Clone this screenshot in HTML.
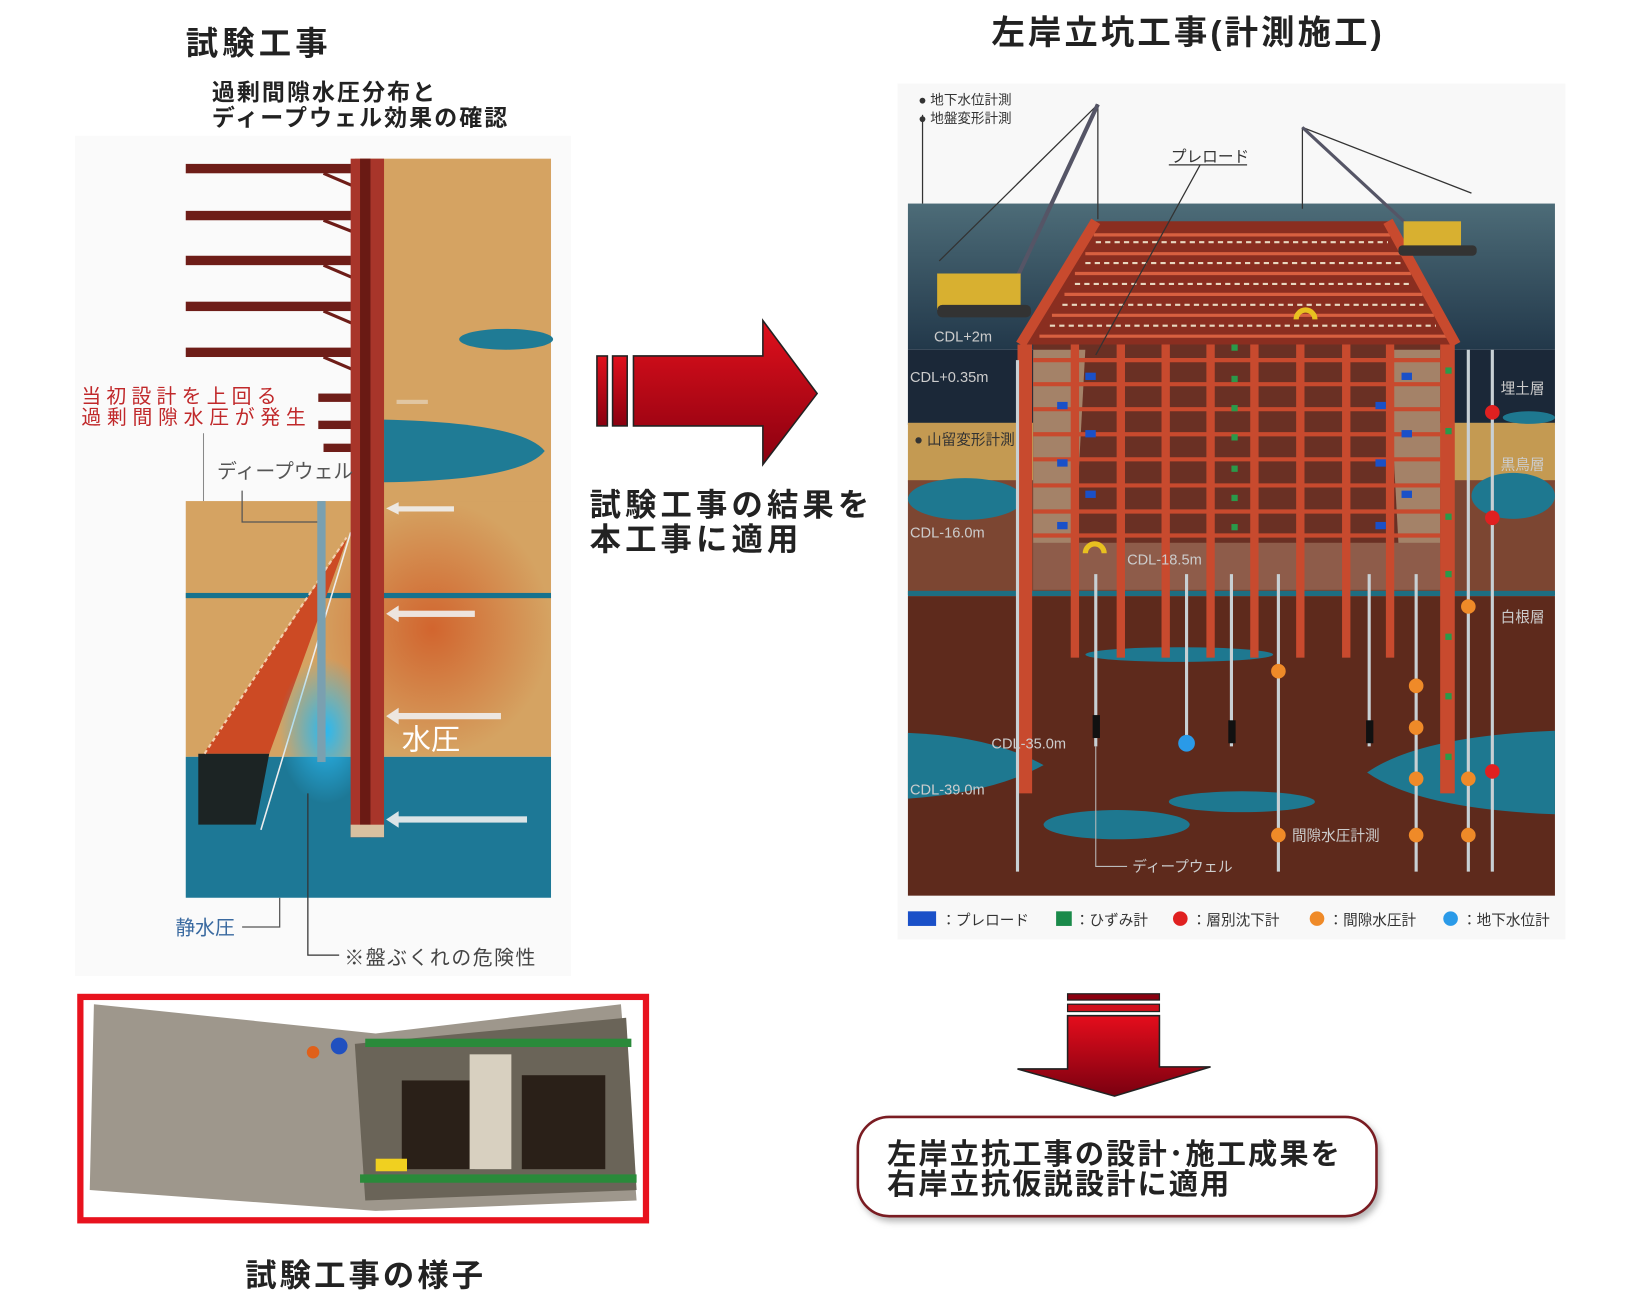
<!DOCTYPE html>
<html><head><meta charset="utf-8">
<style>
html,body{margin:0;padding:0;background:#fff;}
svg{display:block;}
text{font-family:"Liberation Sans","Noto Sans CJK JP",sans-serif;}
</style></head>
<body>
<svg width="1628" height="1308" viewBox="0 0 1560 1253" preserveAspectRatio="none" xmlns="http://www.w3.org/2000/svg">
<defs>
<linearGradient id="redH" x1="0" y1="0" x2="0" y2="1"><stop offset="0" stop-color="#e0101c"/><stop offset="1" stop-color="#8a0010"/></linearGradient>
<linearGradient id="redV" x1="0" y1="0" x2="0" y2="1"><stop offset="0" stop-color="#e50d1c"/><stop offset="1" stop-color="#7a0010"/></linearGradient>
<linearGradient id="sky" x1="0" y1="0" x2="0" y2="1"><stop offset="0" stop-color="#4d6c78"/><stop offset="1" stop-color="#22384a"/></linearGradient>
<radialGradient id="glow" cx="0.5" cy="0.5" r="0.5"><stop offset="0" stop-color="#2ab8f0"/><stop offset="1" stop-color="#2ab8f0" stop-opacity="0"/></radialGradient>
<radialGradient id="orangeGlow" cx="0.5" cy="0.5" r="0.5"><stop offset="0" stop-color="#d04a18" stop-opacity="0.7"/><stop offset="1" stop-color="#d04a18" stop-opacity="0"/></radialGradient>
<filter id="sh" x="-5%" y="-10%" width="115%" height="130%"><feDropShadow dx="3" dy="4" stdDeviation="3" flood-color="#888" flood-opacity="0.6"/></filter>
</defs>

<!-- LEFT titles -->
<text x="178" y="52" font-size="31" font-weight="bold" fill="#222" letter-spacing="4">試験工事</text>
<text x="203" y="96" font-size="22" font-weight="bold" fill="#222" letter-spacing="2">過剰間隙水圧分布と</text>
<text x="203" y="120" font-size="22" font-weight="bold" fill="#222" letter-spacing="2">ディープウェル効果の確認</text>

<!-- left diagram bg -->
<rect x="72" y="130" width="475" height="805" fill="#fafafa"/>
<rect x="340" y="152" width="188" height="330" fill="#d5a362"/>
<rect x="178" y="480" width="350" height="245" fill="#d5a362"/>
<rect x="300" y="480" width="228" height="245" fill="url(#orangeGlow)"/>
<rect x="178" y="725" width="350" height="135" fill="#1d7896"/>
<rect x="178" y="568" width="350" height="5" fill="#16728e"/>
<ellipse cx="485" cy="325" rx="45" ry="10" fill="#1f7b95"/>
<path d="M368 402 Q500 405 522 432 Q500 460 368 462 Z" fill="#1f7b95"/>
<g fill="#6e1d18">
<rect x="178" y="157" width="160" height="9"/>
<rect x="178" y="202" width="160" height="9"/>
<rect x="178" y="245" width="160" height="9"/>
<rect x="178" y="289" width="160" height="9"/>
<rect x="178" y="333" width="160" height="9"/>
<rect x="305" y="377" width="33" height="8"/>
<rect x="305" y="403" width="33" height="8"/>
<rect x="310" y="425" width="28" height="8"/>
</g>
<g stroke="#6e1d18" stroke-width="3">
<line x1="310" y1="166" x2="338" y2="178"/><line x1="310" y1="211" x2="338" y2="222"/><line x1="310" y1="254" x2="338" y2="266"/><line x1="310" y1="298" x2="338" y2="310"/><line x1="310" y1="342" x2="338" y2="354"/>
</g>
<path d="M195 722 L333 515 L258 722 Z" fill="#cc4a24"/>
<path d="M190 722 L258 722 L245 790 L190 790 Z" fill="#1c2424"/>
<line x1="196" y1="722" x2="332" y2="515" stroke="#f4d0b0" stroke-width="2" stroke-dasharray="4 3"/>
<line x1="250" y1="795" x2="336" y2="510" stroke="#eee" stroke-width="1.5"/>
<ellipse cx="312" cy="700" rx="45" ry="70" fill="url(#glow)"/>
<rect x="304" y="480" width="8" height="250" fill="#7aa0b0"/>
<rect x="336" y="152" width="32" height="650" fill="#a8352a"/>
<rect x="345" y="152" width="10" height="650" fill="#6a1a14"/>
<rect x="336" y="790" width="32" height="12" fill="#d8c0a0"/>
<g fill="#f0f0f0" opacity="0.9">
<rect x="380" y="383" width="30" height="4" opacity="0.5"/>
<rect x="380" y="485" width="55" height="5"/><polygon points="370,487 382,481 382,493"/>
<rect x="380" y="585" width="75" height="6"/><polygon points="370,588 382,580 382,596"/>
<rect x="380" y="683" width="100" height="6"/><polygon points="370,686 382,678 382,694"/>
<rect x="380" y="782" width="125" height="6"/><polygon points="370,785 382,777 382,793"/>
</g>
<text x="385" y="718" font-size="28" fill="#fff">水圧</text>
<text x="78" y="386" font-size="19" fill="#c0282a" letter-spacing="5">当初設計を上回る</text>
<text x="78" y="406" font-size="19" fill="#c0282a" letter-spacing="5.5">過剰間隙水圧が発生</text>
<line x1="195" y1="415" x2="195" y2="480" stroke="#888" stroke-width="1"/>
<text x="208" y="458" font-size="19" fill="#555">ディープウェル</text>
<polyline points="232,470 232,500 304,500" fill="none" stroke="#555" stroke-width="1.2"/>
<text x="168" y="895" font-size="19" fill="#3a6aa0">静水圧</text>
<polyline points="232,888 268,888 268,860" fill="none" stroke="#555" stroke-width="1.2"/>
<polyline points="295,760 295,915 325,915" fill="none" stroke="#333" stroke-width="1.2"/>
<text x="330" y="924" font-size="19" fill="#444" letter-spacing="1.5">※盤ぶくれの危険性</text>

<!-- photo -->
<rect x="77" y="955" width="542" height="214" fill="#fff" stroke="#e8121e" stroke-width="6"/>
<path d="M90 962 L360 990 L595 962 L610 1150 L360 1160 L86 1140 Z" fill="#9e978c"/>
<path d="M340 1000 L600 975 L610 1140 L350 1150 Z" fill="#6a6458"/>
<rect x="385" y="1035" width="70" height="85" fill="#2a2018"/>
<rect x="500" y="1030" width="80" height="90" fill="#2a2018"/>
<rect x="350" y="995" width="255" height="8" fill="#2a8a3a"/>
<rect x="345" y="1125" width="265" height="8" fill="#2a8a3a"/>
<rect x="450" y="1010" width="40" height="110" fill="#d8d0c0"/>
<circle cx="325" cy="1002" r="8" fill="#2050c0"/><circle cx="300" cy="1008" r="6" fill="#e0601a"/>
<rect x="360" y="1110" width="30" height="12" fill="#f0d020"/>
<text x="235" y="1232" font-size="30" font-weight="bold" fill="#222" letter-spacing="3">試験工事の様子</text>

<!-- middle arrow -->
<rect x="572" y="341" width="10" height="67" fill="url(#redH)" stroke="#222" stroke-width="1.5"/>
<rect x="587" y="341" width="14" height="67" fill="url(#redH)" stroke="#222" stroke-width="1.5"/>
<path d="M607 341 L731 341 L731 307 L783 377 L731 445 L731 408 L607 408 Z" fill="url(#redH)" stroke="#222" stroke-width="1.5"/>
<text x="565" y="494" font-size="30" font-weight="bold" fill="#222" letter-spacing="4">試験工事の結果を</text>
<text x="565" y="527" font-size="30" font-weight="bold" fill="#222" letter-spacing="4">本工事に適用</text>

<!-- RIGHT title -->
<text x="950" y="42" font-size="32" font-weight="bold" fill="#222" letter-spacing="3">左岸立坑工事(計測施工)</text>

<!-- right diagram -->
<rect x="860" y="80" width="640" height="820" fill="#f8f8f8"/>
<rect x="870" y="195" width="620" height="140" fill="url(#sky)"/>
<rect x="870" y="335" width="620" height="72" fill="#1b2838"/>
<rect x="870" y="405" width="620" height="57" fill="#c49a52"/>
<rect x="870" y="460" width="620" height="110" fill="#7c4632"/>
<rect x="870" y="566" width="620" height="5" fill="#1e6e82"/>
<rect x="870" y="571" width="620" height="287" fill="#5e2a1c"/>
<ellipse cx="925" cy="478" rx="55" ry="20" fill="#1e7890"/>
<ellipse cx="1450" cy="475" rx="40" ry="22" fill="#1e7890"/>
<ellipse cx="1465" cy="400" rx="25" ry="6" fill="#1e7890"/>
<path d="M870 702 Q950 705 1000 733 Q950 760 870 765 Z" fill="#1e7890"/>
<path d="M1490 700 Q1360 705 1310 740 Q1360 775 1490 780 Z" fill="#1e7890"/>
<ellipse cx="1190" cy="768" rx="70" ry="10" fill="#1e7890"/>
<ellipse cx="1070" cy="790" rx="70" ry="14" fill="#1e7890"/>
<ellipse cx="1130" cy="627" rx="90" ry="7" fill="#1e7890"/>
<rect x="990" y="330" width="390" height="190" fill="#6a3024"/>
<rect x="990" y="520" width="390" height="45" fill="#8e5c4a"/>
<path d="M990 335 L1040 335 L1030 520 L990 520 Z" fill="#a48268"/>
<path d="M1380 335 L1330 335 L1340 520 L1380 520 Z" fill="#a48268"/>
<path d="M1050 212 L1330 212 L1395 330 L978 330 Z" fill="#8a2e20"/>
<g stroke="#d86040" stroke-width="3">
<line x1="1048" y1="225" x2="1332" y2="225"/><line x1="1040" y1="243" x2="1342" y2="243"/><line x1="1030" y1="262" x2="1352" y2="262"/><line x1="1020" y1="282" x2="1363" y2="282"/><line x1="1008" y1="302" x2="1374" y2="302"/><line x1="996" y1="322" x2="1386" y2="322"/>
</g>
<g stroke="#e8d8c0" stroke-width="2" stroke-dasharray="5 4">
<line x1="1050" y1="232" x2="1330" y2="232"/><line x1="1040" y1="252" x2="1342" y2="252"/><line x1="1030" y1="272" x2="1352" y2="272"/><line x1="1018" y1="292" x2="1364" y2="292"/><line x1="1006" y1="312" x2="1376" y2="312"/>
</g>
<g stroke="#c84a2e" stroke-width="4">
<line x1="990" y1="345" x2="1380" y2="345"/><line x1="990" y1="368" x2="1380" y2="368"/><line x1="990" y1="392" x2="1380" y2="392"/><line x1="990" y1="416" x2="1380" y2="416"/><line x1="990" y1="440" x2="1380" y2="440"/><line x1="990" y1="465" x2="1380" y2="465"/><line x1="990" y1="490" x2="1380" y2="490"/><line x1="990" y1="513" x2="1380" y2="513"/>
</g>
<g fill="#c84a2e">
<rect x="1026" y="330" width="8" height="300"/><rect x="1070" y="330" width="8" height="300"/><rect x="1113" y="330" width="8" height="300"/><rect x="1156" y="330" width="8" height="300"/><rect x="1198" y="330" width="8" height="300"/><rect x="1242" y="330" width="8" height="300"/><rect x="1286" y="330" width="8" height="300"/><rect x="1328" y="330" width="8" height="300"/>
<rect x="975" y="330" width="14" height="430"/><rect x="1380" y="330" width="14" height="430"/>
</g>
<path d="M978 330 L1050 212 M1395 330 L1330 212" stroke="#c84a2e" stroke-width="10"/>
<g stroke="#c8d0d4" stroke-width="3">
<line x1="975" y1="345" x2="975" y2="835"/><line x1="1050" y1="550" x2="1050" y2="715"/><line x1="1137" y1="550" x2="1137" y2="705"/><line x1="1180" y1="550" x2="1180" y2="715"/><line x1="1225" y1="550" x2="1225" y2="835"/><line x1="1312" y1="550" x2="1312" y2="715"/><line x1="1357" y1="550" x2="1357" y2="835"/><line x1="1407" y1="335" x2="1407" y2="835"/><line x1="1430" y1="335" x2="1430" y2="835"/>
</g>
<g fill="#111"><rect x="1047" y="685" width="7" height="22"/><rect x="1177" y="690" width="7" height="22"/><rect x="1309" y="690" width="7" height="22"/></g>
<circle cx="1137" cy="712" r="8" fill="#2a9ae8"/>
<g fill="#ef8a28"><circle cx="1225" cy="643" r="7"/><circle cx="1225" cy="800" r="7"/><circle cx="1357" cy="657" r="7"/><circle cx="1357" cy="697" r="7"/><circle cx="1357" cy="746" r="7"/><circle cx="1357" cy="800" r="7"/><circle cx="1407" cy="581" r="7"/><circle cx="1407" cy="746" r="7"/><circle cx="1407" cy="800" r="7"/></g>
<g fill="#e02020"><circle cx="1430" cy="395" r="7"/><circle cx="1430" cy="496" r="7"/><circle cx="1430" cy="739" r="7"/></g>
<g fill="#2a9a4a"><rect x="1180" y="330" width="6" height="6"/><rect x="1180" y="360" width="6" height="6"/><rect x="1180" y="388" width="6" height="6"/><rect x="1180" y="416" width="6" height="6"/><rect x="1180" y="446" width="6" height="6"/><rect x="1180" y="474" width="6" height="6"/><rect x="1180" y="502" width="6" height="6"/><rect x="1385" y="352" width="6" height="6"/><rect x="1385" y="410" width="6" height="6"/><rect x="1385" y="492" width="6" height="6"/><rect x="1385" y="547" width="6" height="6"/><rect x="1385" y="607" width="6" height="6"/><rect x="1385" y="664" width="6" height="6"/><rect x="1385" y="722" width="6" height="6"/></g>
<g fill="#1a50c8"><rect x="1040" y="357" width="10" height="7"/><rect x="1013" y="385" width="10" height="7"/><rect x="1040" y="412" width="10" height="7"/><rect x="1013" y="440" width="10" height="7"/><rect x="1040" y="470" width="10" height="7"/><rect x="1013" y="500" width="10" height="7"/><rect x="1343" y="357" width="10" height="7"/><rect x="1318" y="385" width="10" height="7"/><rect x="1343" y="412" width="10" height="7"/><rect x="1318" y="440" width="10" height="7"/><rect x="1343" y="470" width="10" height="7"/><rect x="1318" y="500" width="10" height="7"/></g>
<path d="M1040 530 a9 9 0 0 1 18 0" fill="none" stroke="#e8c020" stroke-width="5"/>
<path d="M1242 306 a9 9 0 0 1 18 0" fill="none" stroke="#e8c020" stroke-width="5"/>
<g stroke="#333" stroke-width="1.2" fill="none">
<line x1="1052" y1="100" x2="900" y2="250"/><line x1="1052" y1="100" x2="975" y2="265"/><line x1="1052" y1="100" x2="1052" y2="210"/>
<line x1="1248" y1="122" x2="1410" y2="185"/><line x1="1248" y1="122" x2="1370" y2="235"/><line x1="1248" y1="122" x2="1248" y2="200"/>
<line x1="884" y1="110" x2="884" y2="195"/><line x1="1150" y1="158" x2="1050" y2="340"/><line x1="1120" y1="158" x2="1195" y2="158"/>
</g>
<line x1="1052" y1="100" x2="975" y2="265" stroke="#556" stroke-width="4"/>
<line x1="1248" y1="122" x2="1370" y2="235" stroke="#556" stroke-width="3"/>
<rect x="898" y="262" width="80" height="35" fill="#d8b030"/><rect x="898" y="292" width="90" height="12" rx="5" fill="#333"/>
<rect x="1345" y="212" width="55" height="25" fill="#d8b030"/><rect x="1340" y="235" width="75" height="10" rx="4" fill="#333"/>
<g font-size="13" fill="#333">
<text x="880" y="100">● 地下水位計測</text><text x="880" y="118">● 地盤変形計測</text>
<text x="1122" y="155" font-size="15">プレロード</text>
</g>
<g font-size="14" fill="#ccc">
<text x="895" y="327">CDL+2m</text><text x="872" y="366">CDL+0.35m</text>
<text x="876" y="426" fill="#333">● 山留変形計測</text>
<text x="872" y="515">CDL-16.0m</text><text x="1080" y="541">CDL-18.5m</text>
<text x="950" y="717">CDL-35.0m</text><text x="872" y="761">CDL-39.0m</text>
<text x="1438" y="377">埋土層</text><text x="1438" y="450">黒鳥層</text><text x="1438" y="596">白根層</text>
<text x="1238" y="805">間隙水圧計測</text><text x="1085" y="835">ディープウェル</text>
</g>
<polyline points="1050,715 1050,830 1080,830" fill="none" stroke="#bbb" stroke-width="1"/>
<g font-size="14" fill="#333">
<rect x="870" y="873" width="27" height="14" fill="#1a50c8"/><text x="902" y="886">：プレロード</text>
<rect x="1012" y="873" width="15" height="14" fill="#1a8a4a"/><text x="1030" y="886">：ひずみ計</text>
<circle cx="1131" cy="880" r="7" fill="#e02020"/><text x="1142" y="886">：層別沈下計</text>
<circle cx="1262" cy="880" r="7" fill="#ef8a28"/><text x="1273" y="886">：間隙水圧計</text>
<circle cx="1390" cy="880" r="7" fill="#2a9ae8"/><text x="1401" y="886">：地下水位計</text>
</g>

<!-- down arrow -->
<rect x="1023" y="952" width="88" height="6" fill="#8a0010" stroke="#222" stroke-width="1.2"/>
<rect x="1023" y="962" width="88" height="7" fill="#d0101c" stroke="#222" stroke-width="1.2"/>
<path d="M1023 973 L1111 973 L1111 1022 L1160 1022 L1068 1050 L975 1024 L1023 1024 Z" fill="url(#redV)" stroke="#222" stroke-width="1.5"/>
<rect x="822" y="1070" width="497" height="95" rx="30" fill="#fff" stroke="#7a1a22" stroke-width="2.5" filter="url(#sh)"/>
<text x="850" y="1115" font-size="28" font-weight="bold" fill="#222" letter-spacing="2">左岸立抗工事の設計･施工成果を</text>
<text x="850" y="1144" font-size="28" font-weight="bold" fill="#222" letter-spacing="2">右岸立抗仮説設計に適用</text>
</svg>
</body></html>
